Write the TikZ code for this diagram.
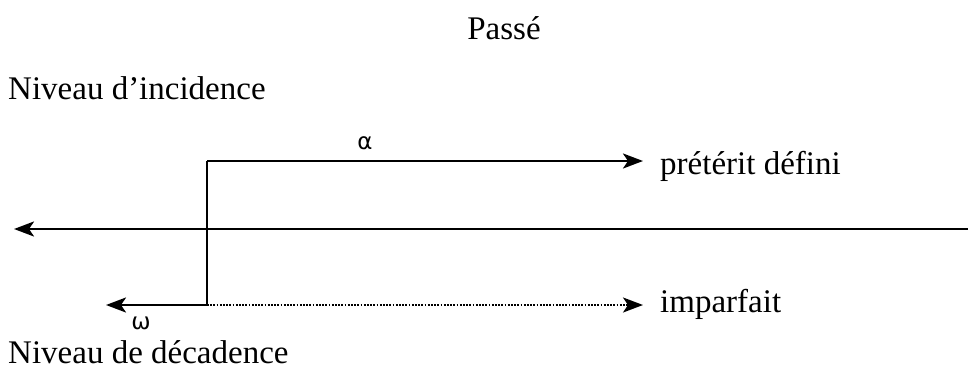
\documentclass[tikz,border=0pt]{standalone}
\usepackage{fontspec}
\setmainfont{Liberation Serif}
\newfontfamily\greekfont{DejaVu Sans}
\usetikzlibrary{arrows.meta}
\begin{document}
\begin{tikzpicture}[x=1pt,y=-1pt,
  lbl/.style={font=\fontsize{33}{36}\selectfont, inner sep=0pt},
  glbl/.style={font=\greekfont\fontsize{23}{26}\selectfont, inner sep=0pt},
  tip/.style={-{Stealth[length=20pt,width=15pt,inset=5pt]}},
  arr/.style={line width=2.6pt, tip},
  ln/.style={line width=2.6pt},
  dotline/.style={line width=2.2pt, dash pattern=on 1.8pt off 1.4pt, tip}]
\useasboundingbox (0,0) rectangle (968,380);
\node[lbl] (passe) at (504,28) {Passé};
\node[lbl, anchor=west] (inc) at (8,88) {Niveau d’incidence};
\node[lbl, anchor=west] (dec) at (8,352) {Niveau de décadence};
\node[lbl, anchor=west] (pret) at (660,166) {prétérit défini};
\node[lbl, anchor=west] (imp) at (660,304) {imparfait};
\node[glbl] (alpha) at (365,143) {α};
\node[glbl] (omega) at (141,323) {ω};
\coordinate (top) at (207,161);
\coordinate (bot) at (207,305);
\coordinate (topend) at (643,161);
\coordinate (botend) at (643,305);
\coordinate (omegaend) at (106,305);
\coordinate (mainR) at (968,229);
\coordinate (mainL) at (14,229);
\draw[arr] (mainR) -- (mainL);
\draw[ln] (bot) -- (top);
\draw[arr] (top) -- (topend);
\draw[arr] (bot) -- (omegaend);
\draw[dotline] (bot) -- (botend);
\end{tikzpicture}
\end{document}
